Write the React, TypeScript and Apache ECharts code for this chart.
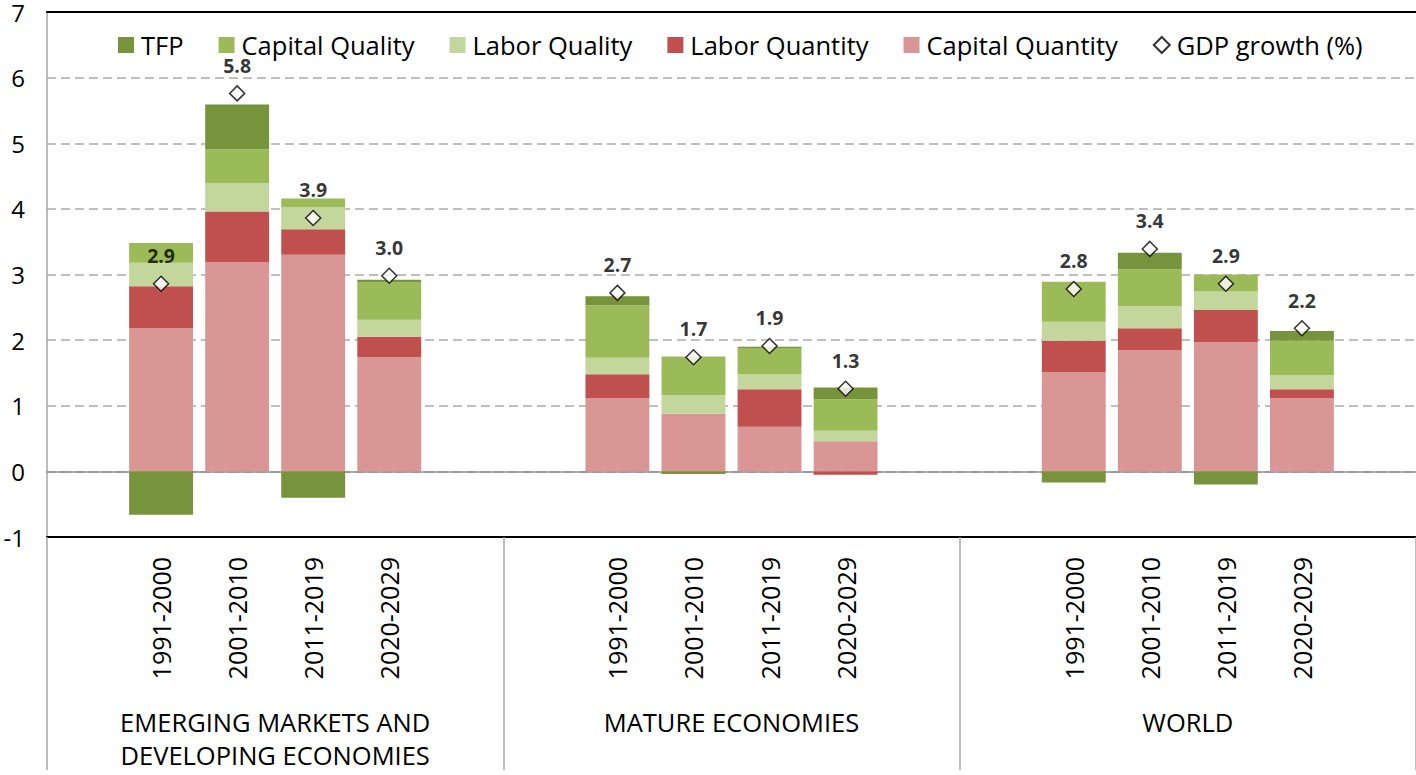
import React, { useEffect, useRef } from "react";
import * as echarts from "echarts";

const periods = ["1991-2000", "2001-2010", "2011-2019", "2020-2029"];
const regions = ["EMERGING MARKETS AND\nDEVELOPING ECONOMIES", "MATURE ECONOMIES", "WORLD"];

// values per region (rows) and period (columns)
const capitalQuantity = [[2.18, 3.19, 3.3, 1.74], [1.12, 0.88, 0.68, 0.46], [1.51, 1.85, 1.97, 1.12]];
const laborQuantity = [[0.64, 0.77, 0.39, 0.31], [0.36, 0.0, 0.57, -0.05], [0.48, 0.33, 0.49, 0.13]];
const laborQuality = [[0.36, 0.43, 0.34, 0.26], [0.25, 0.28, 0.23, 0.16], [0.29, 0.34, 0.28, 0.22]];
const capitalQuality = [[0.3, 0.52, 0.13, 0.57], [0.8, 0.59, 0.4, 0.48], [0.61, 0.56, 0.26, 0.52]];
const tfp = [[-0.66, 0.68, -0.4, 0.04], [0.14, -0.04, 0.02, 0.18], [-0.17, 0.25, -0.2, 0.15]];
const gdpGrowth = [[2.86, 5.76, 3.86, 2.98], [2.72, 1.74, 1.91, 1.26], [2.78, 3.39, 2.86, 2.18]];

const yTicks = { min: -1, max: 7, interval: 1 };

const SLOTS_PER_REGION = 6; // 4 bars + 2 gap slots
const TOTAL_SLOTS = regions.length * SLOTS_PER_REGION;

function slotIndex(r: number, p: number) {
  return r * SLOTS_PER_REGION + 1 + p;
}

const categories: string[] = Array.from({ length: TOTAL_SLOTS }, () => "");
regions.forEach((_, r) => periods.forEach((p, i) => (categories[slotIndex(r, i)] = p)));

function toSlots(vals: number[][]) {
  const out: (number | null)[] = Array.from({ length: TOTAL_SLOTS }, () => null);
  vals.forEach((row, r) => row.forEach((v, i) => (out[slotIndex(r, i)] = v)));
  return out;
}

const FONT = "Open Sans";

export default function App() {
  const ref = useRef<HTMLDivElement>(null);
  useEffect(() => {
    if (!ref.current) return;
    const chart = echarts.init(ref.current, undefined, { renderer: "svg" });
    const barSeries = [
      { name: "Capital Quantity", data: capitalQuantity, color: "#D99694" },
      { name: "Labor Quantity", data: laborQuantity, color: "#C0504D" },
      { name: "Labor Quality", data: laborQuality, color: "#C3D69B" },
      { name: "Capital Quality", data: capitalQuality, color: "#9BBB59" },
      { name: "TFP", data: tfp, color: "#77933C" },
    ].map((s) => ({
      name: s.name,
      type: "bar",
      stack: "total",
      barCategoryGap: "16%",
      itemStyle: { color: s.color },
      data: toSlots(s.data),
      z: 2,
    }));
    chart.setOption({
      animation: false,
      textStyle: { fontFamily: FONT },
      grid: { left: 47, right: 0, top: 10, bottom: 238 },
      legend: {
        left: 118,
        top: 32,
        padding: 0,
        itemWidth: 16,
        itemHeight: 16,
        itemGap: 35,
        textStyle: { fontSize: 25.5, color: "#000", fontFamily: FONT, padding: [0, 0, 0, 2] },
        data: [
          { name: "TFP", icon: "rect" },
          { name: "Capital Quality", icon: "rect" },
          { name: "Labor Quality", icon: "rect" },
          { name: "Labor Quantity", icon: "rect" },
          { name: "Capital Quantity", icon: "rect" },
          { name: "GDP growth (%)", icon: "diamond" },
        ],
      },
      xAxis: [
        {
          type: "category",
          data: categories,
          position: "bottom",
          axisLine: { onZero: false, lineStyle: { color: "#000", width: 2 } },
          axisTick: { show: false },
          axisLabel: { interval: 0, rotate: 90, fontSize: 25, color: "#000", margin: 20, fontFamily: FONT },
        },
        {
          type: "category",
          data: categories,
          position: "top",
          axisLine: { onZero: false, lineStyle: { color: "#000", width: 2 } },
          axisTick: { show: false },
          axisLabel: { show: false },
        },
        {
          type: "category",
          data: regions,
          position: "bottom",
          axisLine: { show: false, onZero: false },
          axisTick: { show: true, length: 233, lineStyle: { color: "#A6A6A6", width: 1.5 } },
          axisLabel: { interval: 0, fontSize: 25.5, lineHeight: 33, color: "#000", margin: 168, fontFamily: FONT },
        },
        {
          type: "category",
          data: categories,
          position: "bottom",
          axisLine: { show: true, onZero: true, lineStyle: { color: "#8C8C8C", width: 1.5 } },
          axisTick: { show: false },
          axisLabel: { show: false },
        },
      ],
      yAxis: {
        type: "value",
        min: yTicks.min,
        max: yTicks.max,
        interval: yTicks.interval,
        axisLine: { show: true, lineStyle: { color: "#A6A6A6", width: 1.5 } },
        axisTick: { show: false },
        axisLabel: { fontSize: 24, color: "#000", margin: 22, fontFamily: FONT },
        splitLine: { lineStyle: { color: "#ABABAB", width: 1.5, type: [9, 5] } },
      },
      series: [
        ...barSeries,
        {
          name: "GDP growth (%)",
          type: "scatter",
          symbol: "diamond",
          symbolSize: 15,
          z: 5,
          itemStyle: { color: "#fff", borderColor: "#000", borderWidth: 1.5 },
          label: {
            show: true,
            position: "top",
            distance: 10,
            fontSize: 19.5,
            fontWeight: "bold",
            color: "#000",
            fontFamily: FONT,
            formatter: (p: any) => Number(p.value).toFixed(1),
          },
          data: toSlots(gdpGrowth),
        },
      ],
    });
    return () => chart.dispose();
  }, []);
  return (
    <div
      ref={ref}
      style={{ position: "fixed", left: 0, top: 0, width: 1416, height: 775, background: "#fff" }}
    />
  );
}
